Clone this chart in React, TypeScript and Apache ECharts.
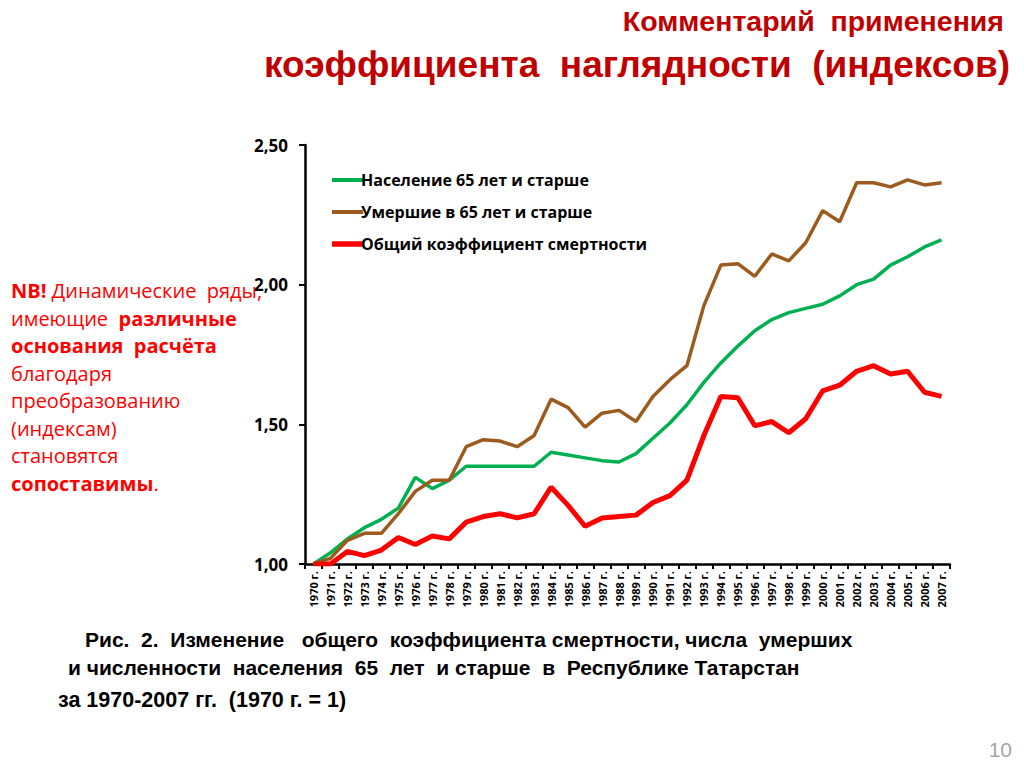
import React, { useEffect, useRef } from "react";
import * as echarts from "echarts";

const years: string[] = [
  "1970", "1971", "1972", "1973", "1974", "1975", "1976", "1977", "1978", "1979",
  "1980", "1981", "1982", "1983", "1984", "1985", "1986", "1987", "1988", "1989",
  "1990", "1991", "1992", "1993", "1994", "1995", "1996", "1997", "1998", "1999",
  "2000", "2001", "2002", "2003", "2004", "2005", "2006", "2007",
];
const categories: string[] = years.map((y) => y + " г.");

const population65: number[] = [
  1.0, 1.04, 1.09, 1.13, 1.16, 1.2, 1.31, 1.27, 1.3, 1.35,
  1.35, 1.35, 1.35, 1.35, 1.4, 1.39, 1.38, 1.37, 1.365, 1.395,
  1.45, 1.505, 1.57, 1.65, 1.72, 1.78, 1.835, 1.875, 1.9, 1.915,
  1.93, 1.96, 2.0, 2.02, 2.07, 2.1, 2.135, 2.16,
];
const deaths65: number[] = [
  1.0, 1.02, 1.085, 1.11, 1.11, 1.18, 1.26, 1.3, 1.3, 1.42,
  1.445, 1.44, 1.42, 1.46, 1.59, 1.56, 1.49, 1.54, 1.55, 1.51,
  1.6, 1.66, 1.71, 1.925, 2.07, 2.075, 2.03, 2.11, 2.085, 2.15,
  2.265, 2.225, 2.365, 2.365, 2.35, 2.375, 2.357, 2.365,
];
const crudeDeathRate: number[] = [
  1.0, 1.0, 1.045, 1.03, 1.05, 1.095, 1.07, 1.1, 1.09, 1.15,
  1.17, 1.18, 1.165, 1.18, 1.275, 1.21, 1.135, 1.165, 1.17, 1.175,
  1.22, 1.245, 1.3, 1.46, 1.6, 1.595, 1.495, 1.51, 1.47, 1.52,
  1.62, 1.64, 1.69, 1.71, 1.68, 1.69, 1.615, 1.6,
];

const seriesNames: string[] = [
  "Население 65 лет и старше",
  "Умершие в 65 лет и старше",
  "Общий коэффициент смертности",
];

const yTicks: number[] = [1.0, 1.5, 2.0, 2.5];

const titleLine1 = "Комментарий  применения";
const titleLine2 = "коэффициента  наглядности  (индексов)";
const noteLines: string[] = [
  "{b|NB!} Динамические  ряды,",
  "имеющие  {b|различные}",
  "{b|основания  расчёта}",
  "благодаря",
  "преобразованию",
  "(индексам)",
  "становятся",
  "{b|сопоставимы}.",
];
const captionLines: string[] = [
  "Рис.  2.  Изменение   общего  коэффициента смертности, числа  умерших",
  "и численности  населения  65  лет  и старше  в  Республике Татарстан",
  "за 1970-2007 гг.  (1970 г. = 1)",
];
const pageNumber = "10";

const NARROW = "'Liberation Sans Narrow', 'Liberation Sans', sans-serif";
const BODY = "'Open Sans', 'Liberation Sans', sans-serif";

export default function App() {
  const ref = useRef<HTMLDivElement>(null);

  useEffect(() => {
    if (!ref.current) return;
    const chart = echarts.init(ref.current, undefined, { renderer: "svg" });

    const colors = ["#00b050", "#9c5a1e", "#ff0000"];
    const widths = [3.5, 3.5, 5];
    const dataSets = [population65, deaths65, crudeDeathRate];
    const legendIcons = [
      "path://M0,0 L31,0 L31,4 L0,4 Z",
      "path://M0,0 L31,0 L31,4 L0,4 Z",
      "path://M0,0 L31,0 L31,5.5 L0,5.5 Z",
    ];

    const noteText = noteLines.join("\n");

    chart.setOption({
      animation: false,
      backgroundColor: "#ffffff",
      grid: { left: 305, top: 145, width: 645, height: 419 },
      legend: {
        orient: "vertical",
        left: 327,
        top: 167,
        itemWidth: 31,
        itemHeight: 14,
        itemGap: 16,
        data: seriesNames.map((name, i) => ({ name, icon: legendIcons[i] })),
        textStyle: {
          color: "#000",
          fontSize: 16,
          fontWeight: "bold",
          fontFamily: BODY,
          padding: [0, 0, 0, -7],
        },
      },
      xAxis: {
        type: "category",
        data: categories,
        boundaryGap: true,
        axisLine: { lineStyle: { color: "#000", width: 2.5 } },
        axisTick: { show: true, length: 5, lineStyle: { color: "#000", width: 2 } },
        axisLabel: {
          interval: 0,
          rotate: 90,
          margin: 7,
          color: "#000",
          fontSize: 11,
          fontWeight: "bold",
          fontFamily: BODY,
        },
      },
      yAxis: {
        type: "value",
        min: yTicks[0],
        max: yTicks[yTicks.length - 1],
        interval: 0.5,
        splitLine: { show: false },
        axisLine: { show: true, lineStyle: { color: "#000", width: 2.5 } },
        axisTick: { show: true, length: 6, lineStyle: { color: "#000", width: 2 } },
        axisLabel: {
          margin: 17,
          color: "#000",
          fontSize: 17,
          fontWeight: "bold",
          fontFamily: BODY,
          formatter: (v: number) => v.toFixed(2).replace(".", ","),
        },
      },
      series: seriesNames.map((name, i) => ({
        name,
        type: "line",
        data: dataSets[i],
        symbol: "none",
        color: colors[i],
        lineStyle: { color: colors[i], width: widths[i] },
        z: i === 2 ? 3 : 2,
      })),
      graphic: [
        {
          type: "text",
          right: 20,
          top: 6,
          style: {
            text: titleLine1,
            fill: "#c00000",
            font: `bold 28.5px ${NARROW}`,
          },
        },
        {
          type: "text",
          right: 14,
          top: 46,
          style: {
            text: titleLine2,
            fill: "#c00000",
            font: `bold 37px ${NARROW}`,
          },
        },
        {
          type: "text",
          left: 11,
          top: 277,
          style: {
            text: noteText,
            fill: "#ff0000",
            font: `20px ${BODY}`,
            lineHeight: 27.5,
            rich: {
              b: {
                fill: "#ff0000",
                fontWeight: "bold",
                fontSize: 20,
                fontFamily: BODY,
                lineHeight: 27.5,
              },
            },
          },
        },
        {
          type: "text",
          left: 85,
          top: 629,
          style: { text: captionLines[0], fill: "#000", font: `bold 21px ${NARROW}` },
        },
        {
          type: "text",
          left: 68,
          top: 657,
          style: { text: captionLines[1], fill: "#000", font: `bold 21px ${NARROW}` },
        },
        {
          type: "text",
          left: 58,
          top: 689,
          style: { text: captionLines[2], fill: "#000", font: `bold 21.5px ${NARROW}` },
        },
        {
          type: "text",
          right: 12,
          top: 739,
          style: { text: pageNumber, fill: "#a6a6a6", font: `21px ${NARROW}` },
        },
      ],
    });

    return () => chart.dispose();
  }, []);

  return (
    <div
      ref={ref}
      style={{ position: "absolute", left: 0, top: 0, width: 1024, height: 767 }}
    />
  );
}
